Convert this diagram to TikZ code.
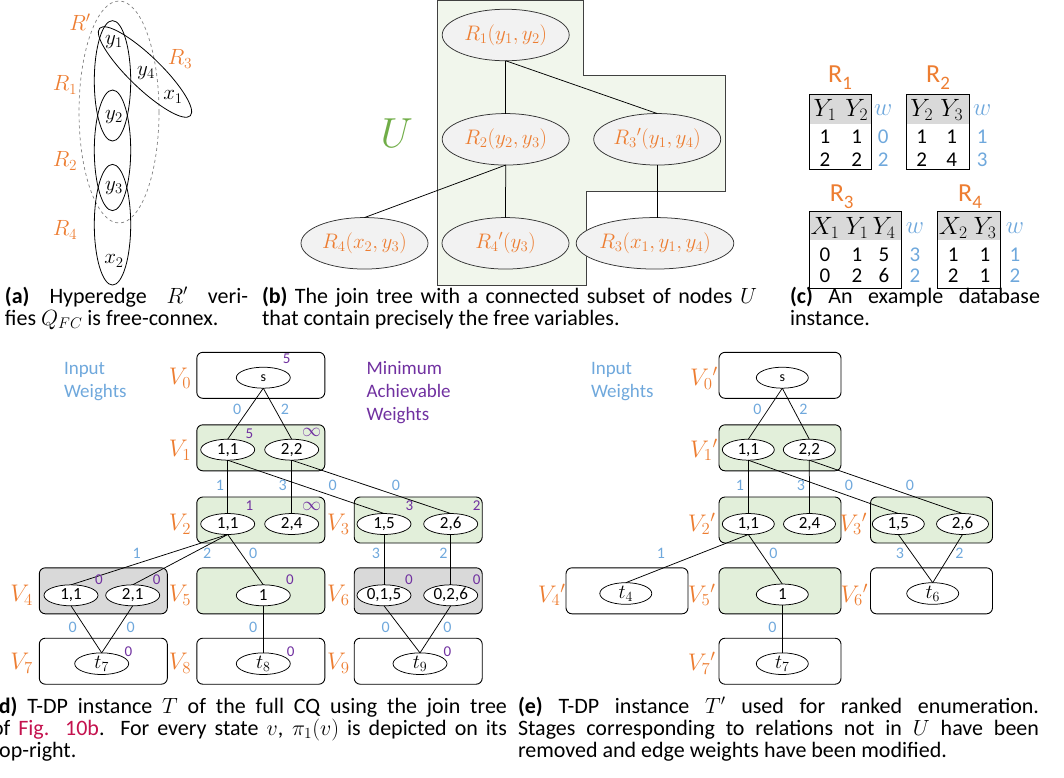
\RequirePackage{fix-cm}
\documentclass[tikz,border=0pt]{standalone}
\usepackage{fontspec}
\newfontfamily\carlito{Carlito}
\setmainfont{Carlito}
\usetikzlibrary{shapes.geometric}
\definecolor{orng}{HTML}{ED7D31}
\definecolor{wblue}{HTML}{6FA8DC}
\definecolor{purp}{HTML}{7030A0}
\definecolor{gfill}{HTML}{E2EFDA}
\definecolor{kfill}{HTML}{D9D9D9}
\definecolor{ufill}{HTML}{F1F6EC}
\definecolor{efill}{HTML}{F2F2F2}
\definecolor{ugreen}{HTML}{70AD47}
\definecolor{figred}{RGB}{196,18,78}
\tikzset{
 every node/.style={inner sep=0pt, outer sep=0pt},
 stg/.style={draw=black, line width=0.9pt, rounded corners=6pt, minimum height=46pt},
 stgd/.style={stg, minimum width=128pt},
 stge/.style={stg, minimum width=122pt},
 gr/.style={fill=gfill}, gy/.style={fill=kfill}, wh/.style={fill=white},
 st/.style={draw, ellipse, line width=0.75pt, fill=white, minimum height=21pt, font=\carlito\fontsize{17}{17}\selectfont},
 std/.style={st, minimum width=54pt},
 ste/.style={st, minimum width=52pt},
 tst/.style={font=\fontsize{20}{20}\selectfont},
 vl/.style={text=orng, font=\fontsize{24}{24}\selectfont},
 iw/.style={text=wblue, font=\carlito\fontsize{16}{16}\selectfont},
 mw/.style={text=purp, font=\carlito\fontsize{15}{15}\selectfont},
 con/.style={line width=0.75pt},
 jt/.style={draw=black!80, ellipse, fill=efill, line width=0.75pt, minimum width=127pt, minimum height=51.5pt, text=orng, font=\fontsize{21}{21}\selectfont},
 captxt/.style={anchor=base west, font=\carlito\fontsize{22}{24}\selectfont},
 hl/.style={text=orng, font=\fontsize{22}{22}\selectfont},
 hv/.style={font=\fontsize{21}{21}\selectfont},
 tl/.style={text=orng, font=\carlito\fontsize{26}{26}\selectfont},
 th/.style={font=\fontsize{25}{25}\selectfont},
 td/.style={font=\carlito\fontsize{21}{21}\selectfont},
 tw/.style={text=wblue, font=\carlito\fontsize{21}{21}\selectfont},
 twm/.style={text=wblue, font=\fontsize{25}{25}\selectfont},
 lgd/.style={align=left, anchor=west, font=\carlito\fontsize{19}{23}\selectfont},
}
\begin{document}
\begin{tikzpicture}[x=1pt, y=-1pt]
\useasboundingbox (0,0) rectangle (1064,777);

% ---------------- (a) hypergraph ----------------
\draw[dashed, gray, line width=0.7pt] (119,112) ellipse (40 and 111);
\draw[line width=0.8pt] (112.5,80.8) ellipse (18.2 and 60.2);
\draw[line width=0.8pt] (112.5,150.3) ellipse (18.2 and 60.3);
\draw[line width=0.8pt] (112.5,224.7) ellipse (18.2 and 60.3);
\draw[line width=0.8pt, rotate around={-44:(145,72)}] (145,72) ellipse (63 and 16);
\node[hl] (aRp) at (80,22) {$R'$};
\node[hl] (aR3) at (180,59) {$R_3$};
\node[hl] (aR1) at (65,85) {$R_1$};
\node[hl] (aR2) at (65,161) {$R_2$};
\node[hl] (aR4) at (65,230) {$R_4$};
\node[hv] (ay1) at (114,42) {$y_1$};
\node[hv] (ay4) at (146,73) {$y_4$};
\node[hv] (ax1) at (173,97) {$x_1$};
\node[hv] (ay2) at (114,117) {$y_2$};
\node[hv] (ay3) at (114,188) {$y_3$};
\node[hv] (ax2) at (114,261) {$x_2$};

% ---------------- (b) join tree ----------------
\draw[draw=black!75, line width=0.9pt, fill=ufill] (437.3,0.5) -- (583.3,0.5) -- (583.3,75) -- (725,75) -- (725,191) -- (586.7,191) -- (586.7,285) -- (437.3,285) -- cycle;
\node[jt] (r1) at (505.7,35) {$R_1(y_1,y_2)$};
\node[jt] (r2) at (505.7,139.3) {$R_2(y_2,y_3)$};
\node[jt] (r3p) at (657.2,139.3) {$R_3{}'(y_1,y_4)$};
\node[jt] (r4) at (364.5,243.3) {$R_4(x_2,y_3)$};
\node[jt] (r4p) at (505.5,243.3) {$R_4{}'(y_3)$};
\node[jt] (r3) at (655,243.3) {$R_3(x_1,y_1,y_4)$};
\draw[con] (r1.south) -- (r2.north);
\draw[con] (r1.south) -- (r3p.north);
\draw[con] (r2.south) -- (r4.north);
\draw[con] (r2.south) -- (r4p.north);
\draw[con] (r3p.south) -- (r3p.south |- r3.north);
\node[text=ugreen, font=\fontsize{42}{42}\selectfont] (U) at (396.7,133) {$U$};

% ---------------- (c) tables ----------------
\node[tl] (cR1) at (840,78) {R\raisebox{-0.28em}{\fontsize{19}{19}\selectfont 1}};
\node[tl] (cR2) at (938,78) {R\raisebox{-0.28em}{\fontsize{19}{19}\selectfont 2}};
\node[tl] (cR3) at (841.7,196.7) {R\raisebox{-0.28em}{\fontsize{19}{19}\selectfont 3}};
\node[tl] (cR4) at (970,196.7) {R\raisebox{-0.28em}{\fontsize{19}{19}\selectfont 4}};
\fill[kfill] (809.3,94.3) rectangle (871.7,124);
\draw[line width=0.9pt] (809.3,94.3) rectangle (871.7,169.3);
\fill[kfill] (906.7,94.3) rectangle (969,124);
\draw[line width=0.9pt] (906.7,94.3) rectangle (969,169.3);
\fill[kfill] (809,211.7) rectangle (901.7,240);
\draw[line width=0.9pt] (809,211.7) rectangle (901.7,288);
\fill[kfill] (937.7,211.7) rectangle (1000,240);
\draw[line width=0.9pt] (937.7,211.7) rectangle (1000,288);
% table 1
\node[th] (h11) at (825,110) {$Y_1$};
\node[th] (h12) at (856.7,110) {$Y_2$};
\node[td] (d111) at (825,136.5) {1};
\node[td] (d112) at (856.7,136.5) {1};
\node[td] (d121) at (825,159.5) {2};
\node[td] (d122) at (856.7,159.5) {2};
\node[twm] (w1h) at (883.3,110) {$w$};
\node[tw] (w11) at (883.3,136.5) {0};
\node[tw] (w12) at (883.3,159.5) {2};
% table 2
\node[th] (h21) at (921.7,110) {$Y_2$};
\node[th] (h22) at (951.7,110) {$Y_3$};
\node[td] (d211) at (921.7,136.5) {1};
\node[td] (d212) at (951.7,136.5) {1};
\node[td] (d221) at (921.7,159.5) {2};
\node[td] (d222) at (951.7,159.5) {4};
\node[twm] (w2h) at (982.3,110) {$w$};
\node[tw] (w21) at (982.3,136.5) {1};
\node[tw] (w22) at (982.3,159.5) {3};
% table 3
\node[th] (h31) at (825,228) {$X_1$};
\node[th] (h32) at (857,228) {$Y_1$};
\node[th] (h33) at (884,228) {$Y_4$};
\node[td] (d311) at (825,254.7) {0};
\node[td] (d312) at (857,254.7) {1};
\node[td] (d313) at (884,254.7) {5};
\node[td] (d321) at (825,275.7) {0};
\node[td] (d322) at (857,275.7) {2};
\node[td] (d323) at (884,275.7) {6};
\node[twm] (w3h) at (915,228) {$w$};
\node[tw] (w31) at (915,254.7) {3};
\node[tw] (w32) at (915,275.7) {2};
% table 4
\node[th] (h41) at (953.3,228) {$X_2$};
\node[th] (h42) at (985,228) {$Y_3$};
\node[td] (d411) at (953.3,254.7) {1};
\node[td] (d412) at (985,254.7) {1};
\node[td] (d421) at (953.3,275.7) {2};
\node[td] (d422) at (985,275.7) {1};
\node[twm] (w4h) at (1015,228) {$w$};
\node[tw] (w41) at (1015,254.7) {1};
\node[tw] (w42) at (1015,275.7) {2};

% ---------------- captions row 1 ----------------
\node[captxt] (capa1) at (5,303.5) {\makebox[243pt][s]{\textbf{(a)} Hyperedge $R'$ veri-}};
\node[captxt] (capa2) at (5,325.5) {fies $Q_{FC}$ is free-connex.};
\node[captxt] (capb1) at (262,303.5) {\makebox[495pt][s]{\textbf{(b)} The join tree with a connected subset of nodes $U$}};
\node[captxt] (capb2) at (262,325.5) {that contain precisely the free variables.};
\node[captxt] (capc1) at (790,303.5) {\makebox[250pt][s]{\textbf{(c)} An example database}};
\node[captxt] (capc2) at (790,325.5) {instance.};

% ---------------- (d) T-DP instance ----------------
\node[lgd, text=wblue] (dIW) at (64,381.7) {Input\\Weights};
\node[lgd, text=purp] (dMW) at (366.7,393) {Minimum\\Achievable\\Weights};
\node[stgd, wh] (V0) at (260.8,375.3) {};
\node[stgd, gr] (V1) at (260.8,447.8) {};
\node[stgd, gr] (V2) at (260.8,520) {};
\node[stgd, gr] (V3) at (418.2,520) {};
\node[stgd, gy] (V4) at (103.3,590.8) {};
\node[stgd, gr] (V5) at (260.8,590.8) {};
\node[stgd, gy] (V6) at (418.2,590.8) {};
\node[stgd, wh] (V7) at (103.3,661.2) {};
\node[stgd, wh] (V8) at (260.8,661.2) {};
\node[stgd, wh] (V9) at (418.2,661.2) {};
\node[vl] (lV0) at (180,378.3) {$V_0$};
\node[vl] (lV1) at (180,450) {$V_1$};
\node[vl] (lV2) at (180,524) {$V_2$};
\node[vl] (lV3) at (338.3,524) {$V_3$};
\node[vl] (lV4) at (21.7,595) {$V_4$};
\node[vl] (lV5) at (180,595) {$V_5$};
\node[vl] (lV6) at (338.3,595) {$V_6$};
\node[vl] (lV7) at (21.7,663.3) {$V_7$};
\node[vl] (lV8) at (180,663.3) {$V_8$};
\node[vl] (lV9) at (338.3,663.3) {$V_9$};
% states
\node[std, font=\carlito\fontsize{14}{14}\selectfont] (s) at (263.3,377.7) {s};
\node[std] (a11) at (227.7,449.7) {1,1};
\node[std] (a22) at (291.7,449.7) {2,2};
\node[std] (b11) at (227.7,524) {1,1};
\node[std] (b24) at (291.7,524) {2,4};
\node[std] (c15) at (384,524) {1,5};
\node[std] (c26) at (450.7,524) {2,6};
\node[std] (d11) at (71,595.3) {1,1};
\node[std] (d21) at (132.7,595.3) {2,1};
\node[std] (e1) at (263.3,595.3) {1};
\node[std] (f015) at (384,595.3) {0,1,5};
\node[std] (f026) at (450.7,595.3) {0,2,6};
\node[std, tst] (t7) at (101.7,663.7) {$t_7$};
\node[std, tst] (t8) at (263.3,663.7) {$t_8$};
\node[std, tst] (t9) at (420,663.7) {$t_9$};
\draw[con] (s.south) -- (a11.north);
\draw[con] (s.south) -- (a22.north);
\draw[con] (a11.south) -- (b11.north);
\draw[con] (a11.south) -- (c15.north);
\draw[con] (a22.south) -- (b24.north);
\draw[con] (a22.south) -- (c26.north);
\draw[con] (b11.south) -- (d11.north);
\draw[con] (b11.south) -- (d21.north);
\draw[con] (b11.south) -- (e1.north);
\draw[con] (c15.south) -- (f015.north);
\draw[con] (c26.south) -- (f026.north);
\draw[con] (d11.south) -- (t7.north);
\draw[con] (d21.south) -- (t7.north);
\draw[con] (e1.south) -- (t8.north);
\draw[con] (f015.south) -- (t9.north);
\draw[con] (f026.south) -- (t9.north);
% input weights
\foreach \n/\x/\y/\lab in {iw1/237.3/409/0, iw2/285/409/2, iw3/220/485.7/1, iw4/282.7/485.7/3, iw5/332.7/485.7/0, iw6/396/485.7/0, iw7/136.7/553.3/1, iw8/207.3/553.3/2, iw9/253.3/553.3/0, iw10/376/553.3/3, iw11/443.3/553.3/2, iw12/72.7/627.7/0, iw13/130.7/627.7/0, iw14/253.3/627.7/0, iw15/385.7/627.7/0, iw16/447.3/627.7/0}
  {\node[iw] (\n) at (\x,\y) {\lab};}
% minimum achievable weights
\foreach \n/\x/\y/\lab in {mw1/286.7/359/5, mw2/249.3/433.3/5, mw4/249.3/506/1, mw6/409.3/505.7/3, mw7/476.7/505.7/2, mw8/99/580/0, mw9/156.7/580/0, mw10/290/580/0, mw11/409/580/0, mw12/476.7/580/0, mw13/128.3/651.7/0, mw14/290.7/651.7/0, mw15/447.3/651.7/0}
  {\node[mw] (\n) at (\x,\y) {\lab};}
\node[mw, font=\fontsize{19}{19}\selectfont] (mw3) at (311.7,432.3) {$\infty$};
\node[mw, font=\fontsize{19}{19}\selectfont] (mw5) at (311.7,506) {$\infty$};

% ---------------- (e) T-DP instance T' ----------------
\node[lgd, text=wblue] (eIW) at (591,381.7) {Input\\Weights};
\node[stge, wh] (W0) at (780,375.3) {};
\node[stge, gr] (W1) at (780,447.8) {};
\node[stge, gr] (W2) at (780,520) {};
\node[stge, gr] (W3) at (931.5,520) {};
\node[stge, wh] (W4) at (627,590.8) {};
\node[stge, gr] (W5) at (780,590.8) {};
\node[stge, wh] (W6) at (931.5,590.8) {};
\node[stge, wh] (W7) at (780,661.2) {};
\node[vl] (lW0) at (704,378.3) {$V_0{}'$};
\node[vl] (lW1) at (704,450) {$V_1{}'$};
\node[vl] (lW2) at (701.7,524) {$V_2{}'$};
\node[vl] (lW3) at (853.3,524) {$V_3{}'$};
\node[vl] (lW4) at (551.7,595) {$V_4{}'$};
\node[vl] (lW5) at (701.7,595) {$V_5{}'$};
\node[vl] (lW6) at (854.3,595) {$V_6{}'$};
\node[vl] (lW7) at (701.7,663.3) {$V_7{}'$};
\node[ste, font=\carlito\fontsize{14}{14}\selectfont] (sp) at (782.3,377.7) {s};
\node[ste] (p11) at (748.3,449.7) {1,1};
\node[ste] (p22) at (809.3,449.7) {2,2};
\node[ste] (q11) at (748.3,524) {1,1};
\node[ste] (q24) at (809.5,524) {2,4};
\node[ste] (q15) at (898.3,524) {1,5};
\node[ste] (q26) at (962.5,524) {2,6};
\node[ste, tst] (t4) at (625.8,593.5) {$t_4$};
\node[ste] (o1) at (782.3,594.5) {1};
\node[ste, tst] (t6) at (932.7,593.5) {$t_6$};
\node[ste, tst] (t7p) at (782.3,663.7) {$t_7$};
\draw[con] (sp.south) -- (p11.north);
\draw[con] (sp.south) -- (p22.north);
\draw[con] (p11.south) -- (q11.north);
\draw[con] (p11.south) -- (q15.north);
\draw[con] (p22.south) -- (q24.north);
\draw[con] (p22.south) -- (q26.north);
\draw[con] (q11.south) -- (t4.north);
\draw[con] (q11.south) -- (o1.north);
\draw[con] (q15.south) -- (t6.north);
\draw[con] (q26.south) -- (t6.north);
\draw[con] (o1.south) -- (t7p.north);
\foreach \n/\x/\y/\lab in {ew1/757.3/409/0, ew2/803.3/409/2, ew3/740/485.7/1, ew4/801/485.7/3, ew5/849/485.7/0, ew6/910/485.7/0, ew7/661/553.3/1, ew8/773.3/553.3/0, ew9/900/553.3/3, ew10/959.3/553.3/2, ew11/772.3/627.7/0}
  {\node[iw] (\n) at (\x,\y) {\lab};}

% ---------------- captions row 2 ----------------
\node[captxt] (capd1) at (-8,713.5) {\makebox[515pt][s]{\textbf{(d)} T-DP instance $T$ of the full CQ using the join tree}};
\node[captxt] (capd2) at (-8,735.5) {\makebox[515pt][s]{of \textcolor{figred}{Fig. 10b}. For every state $v$, $\pi_1(v)$ is depicted on its}};
\node[captxt] (capd3) at (-8,757.5) {top-right.};
\node[captxt] (cape1) at (518,713.5) {\makebox[521pt][s]{\textbf{(e)} T-DP instance $T'$ used for ranked enumeration.}};
\node[captxt] (cape2) at (518,735.5) {\makebox[521pt][s]{Stages corresponding to relations not in $U$ have been}};
\node[captxt] (cape3) at (518,757.5) {removed and edge weights have been modified.};
\end{tikzpicture}
\end{document}
